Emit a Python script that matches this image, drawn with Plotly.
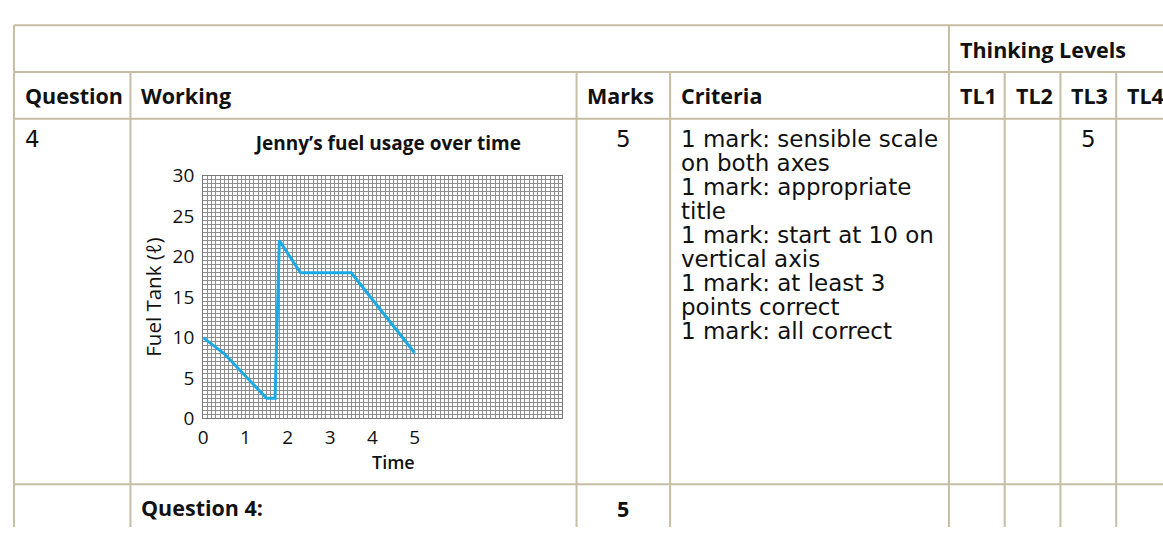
import plotly.graph_objects as go

W, H = 1163, 540

# ---- chart data ----
time_vals = [0, 0.5, 1.5, 1.7, 1.8, 2.3, 3.5, 5]
fuel_vals = [10, 8, 2.5, 2.5, 22, 18, 18, 8.1]
x_ticks = [0, 1, 2, 3, 4, 5]
y_ticks = [0, 5, 10, 15, 20, 25, 30]

chart_title = "Jenny’s fuel usage over time"
x_title = "Time"
y_title = "Fuel Tank (ℓ)"

# ---- table text ----
group_header = "Thinking Levels"
headers = ["Question", "Working", "Marks", "Criteria", "TL1", "TL2", "TL3", "TL4"]
question_no = "4"
marks = "5"
criteria = ["1 mark: sensible scale", "on both axes", "1 mark: appropriate", "title",
            "1 mark: start at 10 on", "vertical axis", "1 mark: at least 3",
            "points correct", "1 mark: all correct"]
tl_values = ["", "", "5", ""]
total_label = "Question 4:"
total_marks = "5"

# ---- layout (pixels) ----
col_edges = [9, 126, 574, 668, 948, 1004, 1060, 1116, 1172]
row_edges = [13, 62, 111, 495, 560]
LINE = "#C6BDA5"
HFONT = "Open Sans"
BFONT = "DejaVu Sans"
TXT = "#111111"
HSIZE = 21.5
BSIZE = 23


def fx(px):
    return px / W


def fy(py):
    return 1 - py / H


fig = go.Figure()
fig.add_trace(go.Scatter(x=time_vals, y=fuel_vals, mode="lines",
                         line=dict(color="#1AABE6", width=3), showlegend=False,
                         hoverinfo="skip"))

shapes = []
for y in row_edges[:4]:
    shapes.append(dict(type="line", xref="paper", yref="paper",
                       x0=fx(col_edges[0]), x1=1, y0=fy(y), y1=fy(y),
                       line=dict(color=LINE, width=2)))
for i, x in enumerate(col_edges[:-1]):
    top = row_edges[0] if i in (0, 4) else row_edges[1]
    shapes.append(dict(type="line", xref="paper", yref="paper",
                       x0=fx(x), x1=fx(x), y0=fy(top), y1=0,
                       line=dict(color=LINE, width=2)))

ann = []


def text(s, x, y, size, family, bold=False, anchor="left"):
    ann.append(dict(text=s, x=fx(x), y=fy(y), xref="paper", yref="paper",
                    xanchor=anchor, yanchor="middle", showarrow=False,
                    font=dict(family=family, size=size, color=TXT,
                              weight="bold" if bold else "normal")))


pad = 9
text(group_header, col_edges[4] + pad, 38, HSIZE, HFONT, True)
for i, h in enumerate(headers):
    text(h, col_edges[i] + pad, 87, HSIZE, HFONT, True)

first = 132
step = 25.3
text(question_no, col_edges[0] + pad, first, BSIZE, BFONT)
text(marks, (col_edges[2] + col_edges[3]) / 2, first, BSIZE, BFONT, anchor="center")
for k, line in enumerate(criteria):
    text(line, col_edges[3] + pad, first + k * step, BSIZE, BFONT)
for j, v in enumerate(tl_values):
    if v:
        text(v, (col_edges[4 + j] + col_edges[5 + j]) / 2, first, BSIZE, BFONT,
             anchor="center")

text(total_label, col_edges[1] + pad, 519, HSIZE, HFONT, True)
text(total_marks, (col_edges[2] + col_edges[3]) / 2, 521, HSIZE, HFONT, True,
     anchor="center")

ann.append(dict(text=x_title, x=fx(390), y=fy(472), xref="paper", yref="paper",
                xanchor="center", yanchor="middle", showarrow=False,
                font=dict(family=HFONT, size=18, color=TXT, weight=600)))

GRID = "#8E8E8E"
fig.update_layout(
    width=W, height=H, margin=dict(l=0, r=0, t=0, b=0),
    paper_bgcolor="white", plot_bgcolor="white",
    shapes=shapes, annotations=ann, showlegend=False,
    title=dict(text=chart_title, x=fx(385), y=fy(137), xref="paper", yref="paper",
               xanchor="center", yanchor="middle",
               font=dict(family=HFONT, size=19, color=TXT, weight="bold")),
    xaxis=dict(domain=[fx(199), fx(559)], range=[0, 8.47], tickmode="array",
               tickvals=x_ticks, ticks="", showgrid=True, gridcolor=GRID, gridwidth=1,
               minor=dict(tick0=0, dtick=0.1, showgrid=True, gridcolor=GRID, gridwidth=1),
               showline=True, linecolor="#777", mirror=True, zeroline=False,
               tickfont=dict(family=HFONT, size=19, color=TXT), ticklabelstandoff=2,
               fixedrange=True),
    yaxis=dict(domain=[fy(426), fy(171)], range=[0, 30], tickmode="array",
               tickvals=y_ticks, ticks="", showgrid=True, gridcolor=GRID, gridwidth=1,
               minor=dict(tick0=0, dtick=0.5, showgrid=True, gridcolor=GRID, gridwidth=1),
               showline=True, linecolor="#777", mirror=True, zeroline=False,
               tickfont=dict(family=HFONT, size=19, color=TXT), ticklabelstandoff=4,
               title=dict(text=y_title, standoff=5,
                          font=dict(family=HFONT, size=20.5, color=TXT, weight=500)),
               fixedrange=True),
)

fig.write_html(
    "out.html",
    config={"displayModeBar": False},
    post_script="document.body.style.margin='0';document.body.style.padding='0';"
                "document.body.style.overflow='hidden';",
)
